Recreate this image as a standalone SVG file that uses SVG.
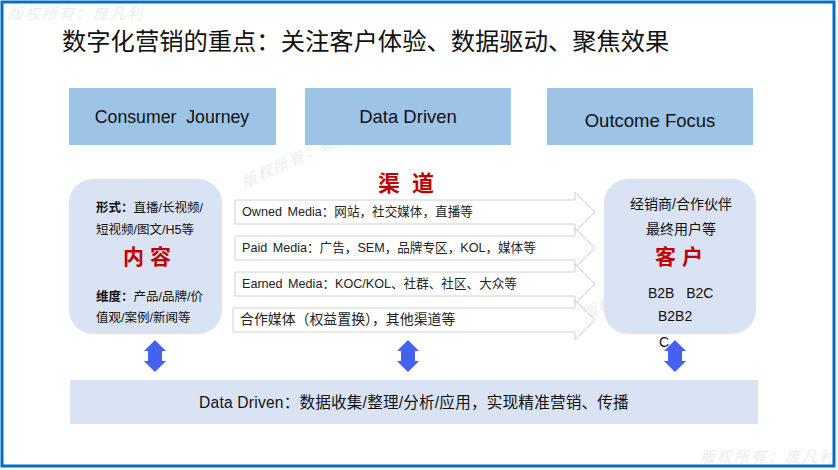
<svg xmlns="http://www.w3.org/2000/svg" width="838" height="470" viewBox="0 0 838 470">
<defs>
<style>
text{font-family:"Liberation Sans","Noto Sans CJK SC",sans-serif;fill:#111;white-space:pre;}
.hdr{fill:#9dc3e6;}
.hdrt{font-size:18.5px;text-anchor:middle;dominant-baseline:central;}
.card{fill:#dae3f3;}
.small{font-size:12.5px;dominant-baseline:central;}
.rs{font-size:14px;dominant-baseline:central;}
.red{fill:#c00000;font-weight:bold;font-size:21px;text-anchor:middle;dominant-baseline:central;}
.chan{fill:#fff;stroke:#d0d0d0;stroke-width:1;}
.ct{font-size:12.6px;word-spacing:2px;dominant-baseline:central;fill:#222;}
.dbl{fill:#4561f0;}
.wm{font-size:15px;font-style:italic;fill:#ececec;letter-spacing:2px;}
</style>
<path id="dblarrow" d="M0,-16 L11,-5 L7,-5 L7,5 L11,5 L0,16 L-11,5 L-7,5 L-7,-5 L-11,-5 Z"/>
</defs>
<rect x="0" y="0" width="838" height="470" fill="#fff"/>
<!-- watermarks -->
<text class="wm" x="8" y="19">版权所有：庞凡利</text>
<text class="wm" x="245" y="188" transform="rotate(-25 245 188)">版权所有：庞凡利</text>
<text class="wm" x="585" y="320" transform="rotate(-25 585 320)">版权所有：庞凡利</text>
<text class="wm" x="700" y="462">版权所有：庞凡利</text>
<rect x="2" y="2" width="832" height="464" fill="none" stroke="#0070c0" stroke-width="3"/>
<g id="title"><text x="62" y="41" font-size="24.3" dominant-baseline="central">数字化营销的重点：关注客户体验、数据驱动、聚焦效果</text></g>
<g id="hdr-consumer"><rect class="hdr" x="69" y="88" width="207" height="57"/><text class="hdrt" x="172" y="117" xml:space="preserve" style="font-size:17.7px">Consumer  Journey</text></g>
<g id="hdr-data"><rect class="hdr" x="305" y="88" width="206" height="57"/><text class="hdrt" x="408" y="116">Data Driven</text></g>
<g id="hdr-outcome"><rect class="hdr" x="547" y="88" width="206" height="57"/><text class="hdrt" x="650" y="120">Outcome Focus</text></g>
<g id="content">
<rect class="card" x="69" y="179" width="153" height="155" rx="24"/>
<text class="small" x="96" y="208"><tspan font-weight="bold">形式：</tspan>直播/长视频/</text>
<text class="small" x="96" y="230">短视频/图文/H5等</text>
<text class="red" x="147" y="256" xml:space="preserve">内 容</text>
<text class="small" x="96" y="297"><tspan font-weight="bold">维度：</tspan>产品/品牌/价</text>
<text class="small" x="96" y="318">值观/案例/新闻等</text>
</g>
<g id="channels">
<text class="red" x="406" y="183" xml:space="preserve" style="font-size:22px">渠  道</text>
<path class="chan" d="M235,200 H575 V192 L595,212 L575,232 V224 H235 Z"/>
<text class="ct" x="242" y="212">Owned Media：网站，社交媒体，直播等</text>
<path class="chan" d="M235,236 H575 V228 L595,248 L575,268 V260 H235 Z"/>
<text class="ct" x="242" y="248">Paid Media：广告，SEM，品牌专区，KOL，媒体等</text>
<path class="chan" d="M235,272 H575 V264 L595,284 L575,304 V296 H235 Z"/>
<text class="ct" x="242" y="284">Earned Media：KOC/KOL、社群、社区、大众等</text>
<path class="chan" d="M233,308 H575 V300 L595,320 L575,340 V332 H233 Z"/>
<text class="ct" x="240" y="319" style="font-size:13.9px;word-spacing:0">合作媒体（权益置换），其他渠道等</text>
</g>
<g id="customer">
<rect class="card" x="604" y="179" width="152" height="155" rx="24"/>
<text class="rs" x="681" y="204" text-anchor="middle">经销商/合作伙伴</text>
<text class="rs" x="681" y="229" text-anchor="middle">最终用户等</text>
<text class="red" x="679" y="256" xml:space="preserve">客 户</text>
<text class="rs" x="648" y="293" xml:space="preserve">B2B   B2C</text>
<text class="rs" x="658" y="316">B2B2</text>
<text class="rs" x="659" y="342">C</text>
</g>
<g id="connectors">
<use href="#dblarrow" class="dbl" x="155" y="356"/>
<use href="#dblarrow" class="dbl" x="408" y="356"/>
<use href="#dblarrow" class="dbl" x="675" y="356"/>
</g>
<g id="data-bar">
<rect class="card" x="70" y="380" width="688" height="44"/>
<text x="414" y="402" font-size="15.6" text-anchor="middle" dominant-baseline="central" letter-spacing="0.2">Data Driven：数据收集/整理/分析/应用，实现精准营销、传播</text>
</g>
</svg>
